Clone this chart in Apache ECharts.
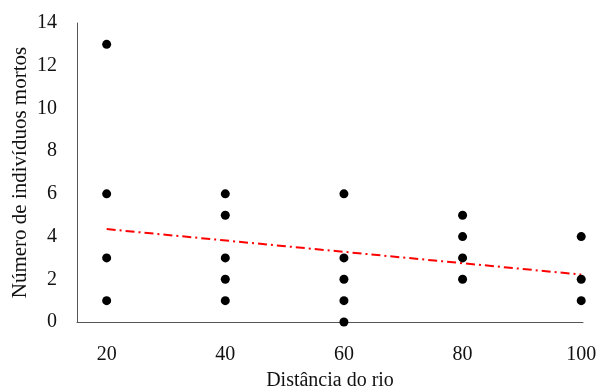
<!DOCTYPE html>
<html><head><meta charset="utf-8">
<script src="https://cdn.jsdelivr.net/npm/echarts@6/dist/echarts.min.js"></script>
<style>html,body{margin:0;padding:0;background:#fff}#c{width:600px;height:392px}</style>
</head><body><div id="c"></div>
<script>
var distances = [20, 20, 20, 20, 40, 40, 40, 40, 40, 60, 60, 60, 60, 60, 80, 80, 80, 80, 100, 100, 100];
var deaths    = [13, 6, 3, 1, 6, 5, 3, 2, 1, 6, 3, 2, 1, 0, 5, 4, 3, 2, 4, 2, 1];
var trendX = [20, 100];
var trendY = [4.35, 2.22];
var xTitle = 'Distância do rio';
var yTitle = 'Número de indivíduos mortos';

var pts = distances.map(function(x, i){ return [x, deaths[i]]; });
var trend = trendX.map(function(x, i){ return [x, trendY[i]]; });
var font = '"Liberation Serif", "Times New Roman", serif';

var chart = echarts.init(document.getElementById('c'));
chart.setOption({
  animation: false,
  grid: {left: 77, right: 17, top: 23, bottom: 70, containLabel: false, outerBoundsMode: 'none'},
  xAxis: {
    type: 'value', min: 15, max: 100.3, interval: 5,
    name: xTitle, nameLocation: 'middle', nameGap: 49,
    nameTextStyle: {fontFamily: font, fontSize: 20, color: '#111'},
    axisLine: {lineStyle: {color: '#555', width: 1}},
    axisTick: {show: false},
    splitLine: {show: false},
    axisLabel: {fontFamily: font, fontSize: 20, color: '#111', margin: 23,
      showMaxLabel: true,
      formatter: function(v){ return (Math.abs(v % 20) < 1e-6) ? String(v) : ''; }}
  },
  yAxis: {
    type: 'value', min: 0, max: 14, interval: 2,
    name: yTitle, nameLocation: 'middle', nameGap: 46, nameMoveOverlap: false,
    nameTextStyle: {fontFamily: font, fontSize: 21, color: '#111'},
    axisLine: {show: true, lineStyle: {color: '#555', width: 1}},
    axisTick: {show: false},
    splitLine: {show: false},
    axisLabel: {fontFamily: font, fontSize: 20, color: '#111', margin: 20}
  },
  series: [
    {type: 'scatter', data: pts, symbol: 'circle', symbolSize: 9,
     itemStyle: {color: '#000', opacity: 1}, z: 3},
    {type: 'line', data: trend, symbol: 'none', z: 2,
     lineStyle: {color: '#ff0000', width: 2, type: [9, 4, 2, 4]}}
  ]
});
</script></body></html>
